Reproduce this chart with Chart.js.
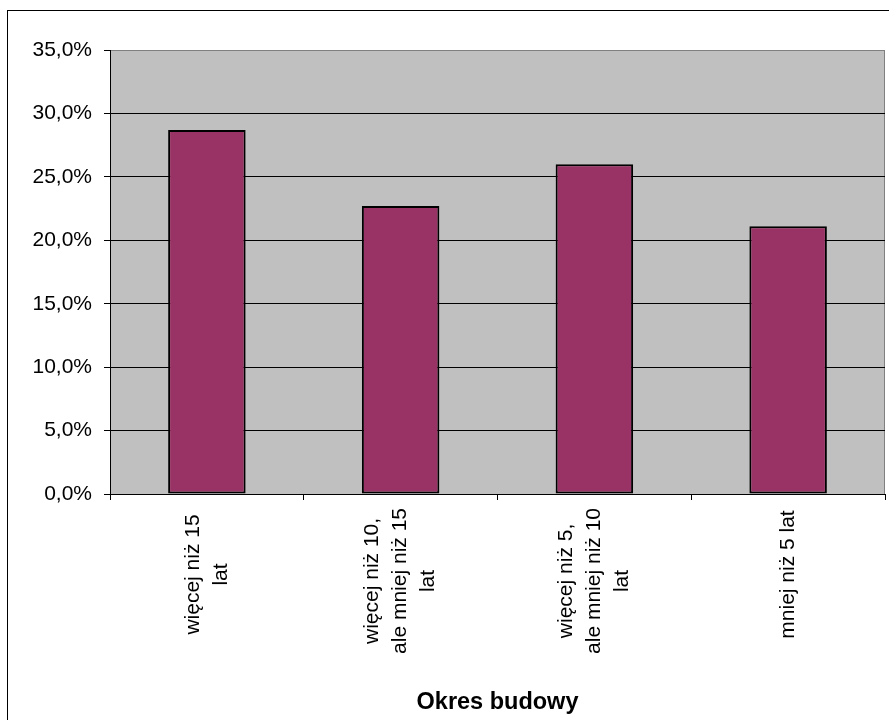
<!DOCTYPE html>
<html>
<head>
<meta charset="utf-8">
<script src="https://cdn.jsdelivr.net/npm/chart.js@4/dist/chart.umd.min.js"></script>
<style>
  html, body { margin: 0; padding: 0; background: #fff; overflow: hidden; }
  #frame { position: absolute; left: 7px; top: 10px; width: 900px; height: 800px; border: 1px solid #000; }
  #wrap { position: absolute; left: 0; top: 0; width: 889px; height: 720px; }
</style>
</head>
<body>
<div id="frame"></div>
<div id="wrap"><canvas id="ch" width="889" height="720"></canvas></div>
<script>
// ── Dane ─────────────────────────────────────────────
const CATEGORIES = [
  ['więcej niż 15', 'lat'],
  ['więcej niż 10,', 'ale mniej niż 15', 'lat'],
  ['więcej niż 5,', 'ale mniej niż 10', 'lat'],
  ['mniej niż 5 lat'],
];
const SHARES = [28.7, 22.7, 26.0, 21.1];   // %
const Y_MAX  = 35;
const Y_STEP = 5;
const X_TITLE = 'Okres budowy';

const FONT = '"Liberation Sans", Arial, sans-serif';

// tło obszaru wykresu (szare) + ramka
const plotBg = {
  id: 'plotBg',
  beforeDraw(chart) {
    const { ctx, chartArea: a } = chart;
    ctx.save();
    ctx.fillStyle = '#C0C0C0';
    ctx.fillRect(a.left, a.top, a.right - a.left, a.bottom - a.top);
    ctx.strokeStyle = '#808080';
    ctx.lineWidth = 1;
    ctx.strokeRect(a.left + 0.5, a.top + 0.5, a.right - a.left - 1, a.bottom - a.top);
    ctx.restore();
  },
};

// etykiety kategorii: obrócone o 90°, wiersze wyśrodkowane
const catLabels = {
  id: 'catLabels',
  afterDraw(chart) {
    const { ctx } = chart;
    const xs = chart.scales.x;
    const top = chart.chartArea.bottom + 14;
    const lh = 28;
    ctx.save();
    ctx.font = '21px ' + FONT;
    ctx.fillStyle = '#000';
    ctx.textAlign = 'center';
    ctx.textBaseline = 'middle';
    CATEGORIES.forEach((lines, i) => {
      const w = Math.max(133, ...lines.map(l => ctx.measureText(l).width));
      const x = xs.getPixelForValue(i);
      ctx.save();
      ctx.translate(x, top + w / 2);
      ctx.rotate(-Math.PI / 2);
      lines.forEach((l, k) => {
        ctx.fillText(l, 0, (k - (lines.length - 1) / 2) * lh);
      });
      ctx.restore();
    });
    ctx.restore();
  },
};

new Chart(document.getElementById('ch'), {
  type: 'bar',
  data: {
    labels: CATEGORIES,
    datasets: [{
      data: SHARES,
      backgroundColor: '#993366',
      borderColor: '#000',
      borderWidth: 2,
      borderSkipped: false,
      barPercentage: 0.4,
      categoryPercentage: 1.0,
    }],
  },
  options: {
    responsive: false,
    animation: false,
    layout: { padding: { left: 0, top: 50, right: 4, bottom: 0 } },
    plugins: { legend: { display: false }, tooltip: { enabled: false } },
    scales: {
      x: {
        afterFit: s => { s.height = 226; },
        ticks: { display: false },
        grid: { offset: true, drawOnChartArea: false, color: '#000', tickLength: 6 },
        border: { color: '#000', width: 1 },
        title: {
          display: true,
          text: X_TITLE,
          color: '#000',
          font: { family: FONT, size: 23.5, weight: 'bold' },
          padding: { top: 0, bottom: 3 },
        },
      },
      y: {
        min: 0,
        max: Y_MAX,
        afterFit: s => { s.width = 110; },
        ticks: {
          stepSize: Y_STEP,
          color: '#000',
          padding: 12,
          font: { family: FONT, size: 21 },
          callback: v => v.toFixed(1).replace('.', ',') + '%',
        },
        grid: {
          color: c => (c.tick && c.tick.value === Y_MAX ? '#808080' : '#000'),
          tickColor: '#000',
          tickLength: 6,
          lineWidth: 1,
        },
        border: { color: '#000', width: 1 },
      },
    },
  },
  plugins: [plotBg, catLabels],
});
</script>
</body>
</html>
